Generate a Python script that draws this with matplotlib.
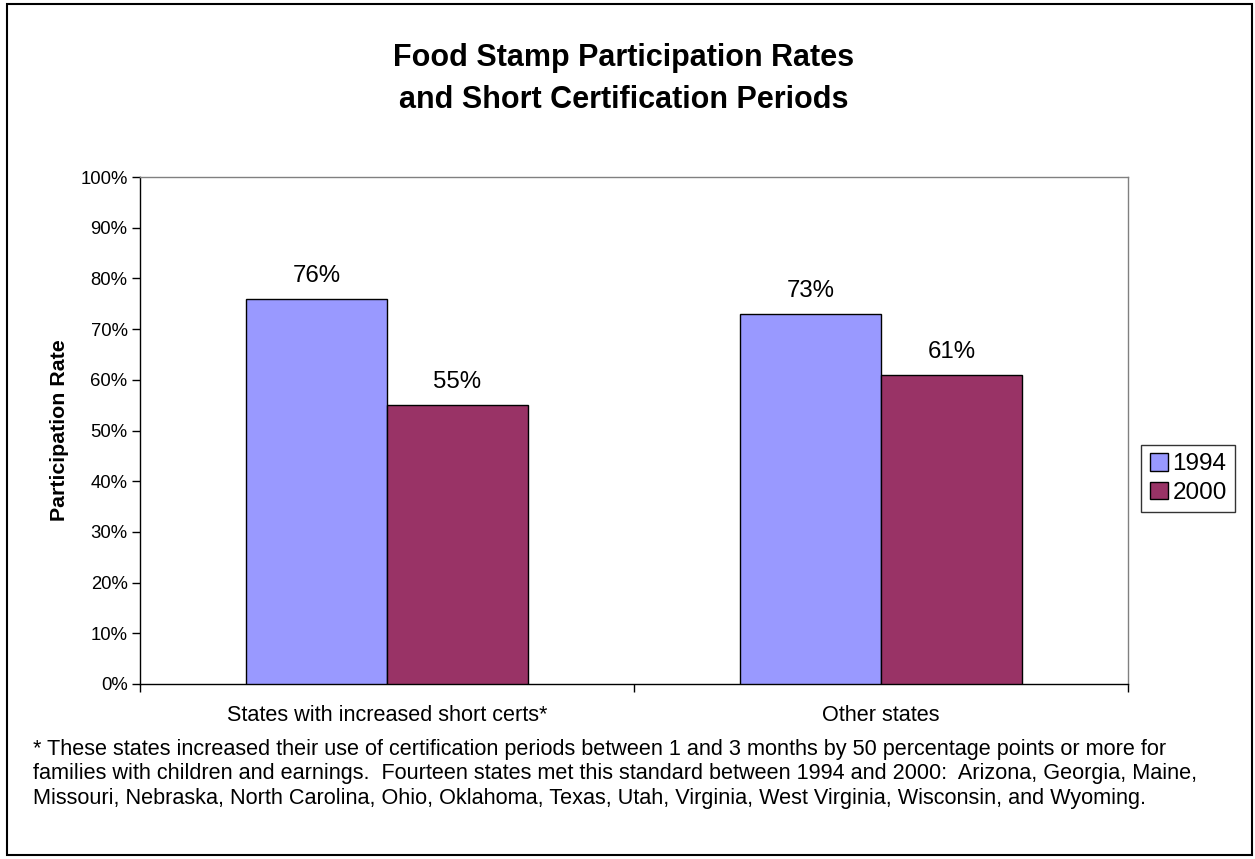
import matplotlib
matplotlib.use("Agg")
import matplotlib.pyplot as plt
import numpy as np
from matplotlib.patches import Rectangle
from matplotlib.ticker import FuncFormatter, MultipleLocator

plt.rcParams['font.family'] = ['Liberation Sans', 'DejaVu Sans']

categories = ["States with increased short certs*", "Other states"]
years = ["1994", "2000"]
rate_1994 = [76, 73]
rate_2000 = [55, 61]
colors = ["#9999FF", "#993366"]

title = "Food Stamp Participation Rates\nand Short Certification Periods"
footnote = ("* These states increased their use of certification periods between 1 and 3 months by 50 percentage points or more for\n"
            "families with children and earnings.  Fourteen states met this standard between 1994 and 2000:  Arizona, Georgia, Maine,\n"
            "Missouri, Nebraska, North Carolina, Ohio, Oklahoma, Texas, Utah, Virginia, West Virginia, Wisconsin, and Wyoming.")

W, H = 1255, 859
fig = plt.figure(figsize=(W / 100, H / 100), dpi=100)
ax = fig.add_axes([140 / W, 1 - 684 / H, (1128 - 140) / W, (684 - 177) / H])

x = np.arange(len(categories))
bw = 0.285
series = [rate_1994, rate_2000]
for i, (vals, col, yr) in enumerate(zip(series, colors, years)):
    pos = x + (i - 0.5) * bw
    bars = ax.bar(pos, vals, width=bw, color=col, edgecolor="black", linewidth=1.0, label=yr, zorder=3)
    for b, v in zip(bars, vals):
        ax.text(b.get_x() + b.get_width() / 2, v + 2.4, f"{v}%", ha="center", va="bottom", fontsize=17.3)

ax.set_xlim(-0.5, 1.5)
ax.set_ylim(0, 100)
ax.yaxis.set_major_locator(MultipleLocator(10))
ax.yaxis.set_major_formatter(FuncFormatter(lambda v, p: f"{int(round(v))}%"))
ax.tick_params(axis="y", labelsize=13.3, length=6, width=1, direction="out", pad=3)
ax.set_xticks([-0.5, 0.5, 1.5])
ax.set_xticklabels([])
ax.set_xticks(x, minor=True)
ax.set_xticklabels(categories, minor=True)
ax.tick_params(axis="x", which="major", length=6, width=1, direction="out")
ax.tick_params(axis="x", which="minor", length=0, labelsize=15.6, pad=15)

for s in ["top", "right"]:
    ax.spines[s].set_color("#808080")
    ax.spines[s].set_linewidth(1.0)
for s in ["left", "bottom"]:
    ax.spines[s].set_color("black")
    ax.spines[s].set_linewidth(1.0)

ax.set_ylabel("Participation Rate", fontsize=15.4, fontweight="bold", labelpad=8)

leg = ax.legend(loc="center left", bbox_to_anchor=((1141 - 140) / (1128 - 140), (684 - 478.5) / (684 - 177)),
                fontsize=17.5, frameon=True, fancybox=False, handlelength=0.75, handleheight=0.75,
                handletextpad=0.2, borderpad=0.35, labelspacing=0.25, borderaxespad=0)
leg.get_frame().set_edgecolor("black")
leg.get_frame().set_linewidth(1.0)

fig.text(624 / W, 1 - 79 / H, title, ha="center", va="center", fontsize=22, fontweight="bold", linespacing=1.5)

fig.text(33 / W, 1 - 774 / H, footnote, ha="left", va="center", fontsize=15.6, linespacing=1.2)

fig.add_artist(Rectangle((7 / W, 4 / H), (1252 - 7) / W, (855 - 4) / H, transform=fig.transFigure,
                         fill=False, edgecolor="black", linewidth=1.5))

fig.savefig("out.png", dpi=100)
